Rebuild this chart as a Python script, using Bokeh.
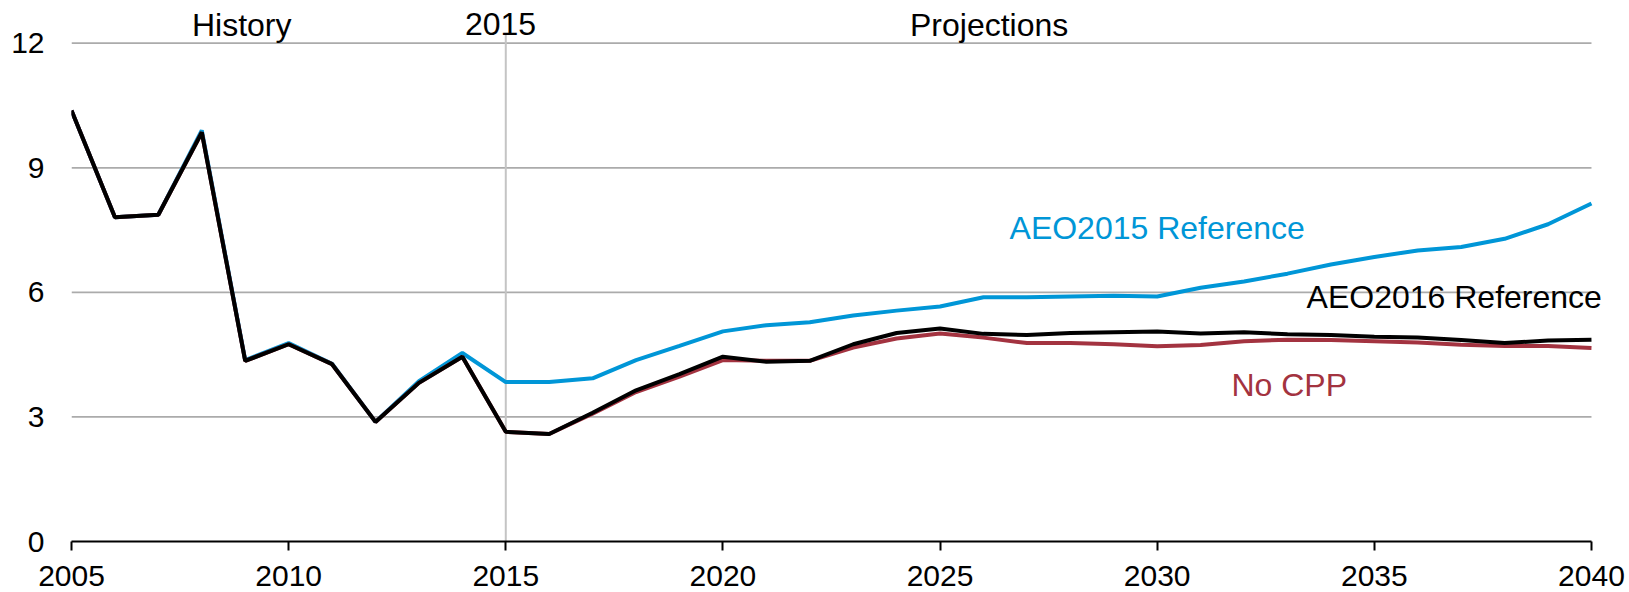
from bokeh.plotting import figure
from bokeh.models import Range1d, FixedTicker, Label
from bokeh.embed import file_html
from bokeh.resources import INLINE

years = list(range(2005, 2041))

aeo2015_ref = [10.38, 7.81, 7.87, 9.90, 4.37, 4.78, 4.28, 2.88, 3.86, 4.54,
               3.84, 3.84, 3.93, 4.37, 4.71, 5.06, 5.21, 5.28, 5.44, 5.56,
               5.66, 5.88, 5.88, 5.90, 5.92, 5.90, 6.11, 6.26, 6.45, 6.67,
               6.85, 7.01, 7.09, 7.29, 7.64, 8.14]

no_cpp = [10.38, 7.81, 7.87, 9.85, 4.35, 4.75, 4.27, 2.88, 3.82, 4.45,
          2.64, 2.59, 3.08, 3.60, 3.97, 4.37, 4.35, 4.35, 4.67, 4.89,
          5.01, 4.91, 4.78, 4.78, 4.75, 4.70, 4.73, 4.82, 4.86, 4.85,
          4.82, 4.79, 4.74, 4.71, 4.71, 4.66]

aeo2016_ref = [10.38, 7.81, 7.87, 9.85, 4.35, 4.75, 4.27, 2.88, 3.82, 4.45,
               2.64, 2.59, 3.10, 3.64, 4.03, 4.45, 4.33, 4.35, 4.75, 5.02,
               5.13, 5.00, 4.97, 5.02, 5.04, 5.06, 5.01, 5.04, 4.99, 4.97,
               4.93, 4.91, 4.85, 4.78, 4.84, 4.86]

x_ticks = [2005, 2010, 2015, 2020, 2025, 2030, 2035, 2040]
y_ticks = [0, 3, 6, 9, 12]
grid_levels = [3, 6, 9, 12]
divider_year = 2015

FONT = "Liberation Sans"
BLUE = "#0096D7"
RED = "#A33340"
BLACK = "#000000"

x_start, x_end = x_ticks[0], x_ticks[-1]

p = figure(width=1629, height=592, output_backend="svg", toolbar_location=None,
           x_range=Range1d(x_start, 2040.3), y_range=Range1d(0, 12.98))
p.min_border_left = 71
p.min_border_right = 25
p.min_border_top = 2
p.min_border_bottom = 51
p.outline_line_color = None
p.background_fill_color = "white"
p.border_fill_color = "white"

# grid drawn as segments limited to the data years
p.xgrid.grid_line_color = None
p.ygrid.grid_line_color = None
p.segment(x0=[x_start] * len(grid_levels), y0=grid_levels,
          x1=[x_end] * len(grid_levels), y1=grid_levels,
          line_color="#ABABAB", line_width=1.75)

# 2015 divider
p.segment(x0=[divider_year], y0=[0], x1=[divider_year], y1=[12.23],
          line_color="#C4C4C4", line_width=2)

# x axis
p.xaxis.ticker = FixedTicker(ticks=x_ticks)
p.xaxis.bounds = (x_start, x_end)
p.xaxis.axis_line_color = BLACK
p.xaxis.axis_line_width = 2
p.xaxis.major_tick_line_color = BLACK
p.xaxis.major_tick_line_width = 2
p.xaxis.major_tick_out = 9
p.xaxis.major_tick_in = 0
p.xaxis.minor_tick_line_color = None
p.xaxis.major_label_text_font = FONT
p.xaxis.major_label_text_font_size = "30px"
p.xaxis.major_label_text_color = BLACK
p.xaxis.major_label_standoff = 15

# y axis
p.yaxis.ticker = FixedTicker(ticks=y_ticks)
p.yaxis.axis_line_color = None
p.yaxis.major_tick_line_color = None
p.yaxis.minor_tick_line_color = None
p.yaxis.major_tick_out = 0
p.yaxis.major_label_standoff = 27
p.yaxis.major_label_text_font = FONT
p.yaxis.major_label_text_font_size = "30px"
p.yaxis.major_label_text_color = BLACK

# series
p.line(years, aeo2015_ref, line_color=BLUE, line_width=4)
p.line(years, no_cpp, line_color=RED, line_width=4)
p.line(years, aeo2016_ref, line_color=BLACK, line_width=4)


def note(x, y, text, color, align="center"):
    p.add_layout(Label(x=x, y=y, text=text, text_align=align,
                       text_baseline="alphabetic", text_font=FONT,
                       text_font_size="32px", text_color=color))


note(2008.92, 12.45, "History", BLACK)
note(2014.88, 12.46, "2015", BLACK)
note(2026.13, 12.45, "Projections", BLACK)
note(2030.0, 7.56, "AEO2015 Reference", BLUE)
note(2036.84, 5.88, "AEO2016 Reference", BLACK)
note(2033.04, 3.78, "No CPP", RED)

open("out.html", "w").write(file_html(p, INLINE))
